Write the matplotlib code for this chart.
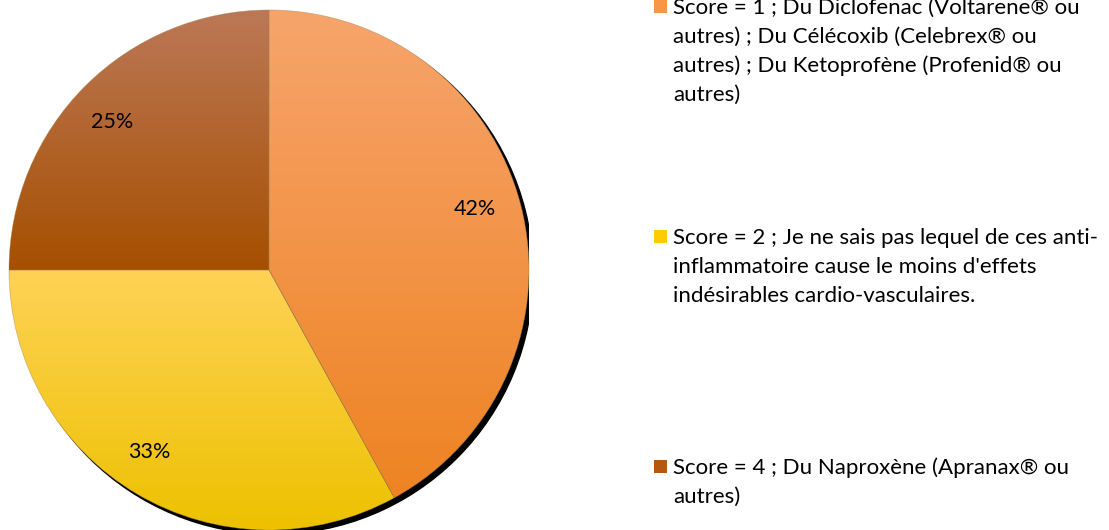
import numpy as np
import matplotlib
matplotlib.use("Agg")
import matplotlib.pyplot as plt
from matplotlib.colors import LinearSegmentedColormap
from matplotlib.patches import Rectangle, Circle

values = [42, 33, 25]
pct_labels = ["42%", "33%", "25%"]
legend_labels = [
    "Score = 1 ; Du Diclofenac (Voltarene® ou\nautres) ; Du Célécoxib (Celebrex® ou\nautres) ; Du Ketoprofène (Profenid® ou\nautres)",
    "Score = 2 ; Je ne sais pas lequel de ces anti-\ninflammatoire cause le moins d'effets\nindésirables cardio-vasculaires.",
    "Score = 4 ; Du Naproxène (Apranax® ou\nautres)",
]
top_colors = ["#F7A46C", "#FFD257", "#BC7857"]
bottom_colors = ["#EE8322", "#EDC100", "#A64F00"]
legend_colors = ["#F79646", "#FFCC00", "#B35A10"]

W, H = 1109, 530
fig = plt.figure(figsize=(W / 100, H / 100), dpi=100)
FONT = "Lato"

ax = fig.add_axes([9 / W, 0, 520 / W, 520 / H])
ax.set_xlim(-1, 1)
ax.set_ylim(-1, 1)
ax.set_aspect("equal")
ax.axis("off")

# shadow
shadow = Circle((0.016, -0.016), 1.0, color="black", zorder=0)
ax.add_patch(shadow)

wedges, texts = ax.pie(values, startangle=90, counterclock=False, radius=1.0,
                       wedgeprops=dict(linewidth=0, edgecolor="none"))
for w in wedges:
    w.set_zorder(1)

grad = np.linspace(0, 1, 256).reshape(-1, 1)
for w, tc, bc in zip(wedges, top_colors, bottom_colors):
    w.set_facecolor(bc)
    verts = w.get_path().vertices
    x0, x1 = verts[:, 0].min(), verts[:, 0].max()
    y0, y1 = verts[:, 1].min(), verts[:, 1].max()
    cmap = LinearSegmentedColormap.from_list("g", [bc, tc])
    im = ax.imshow(grad, cmap=cmap, extent=[x0, x1, y0, y1], origin="lower",
                   aspect="auto", zorder=2, interpolation="bilinear")
    im.set_clip_path(w)

for w in wedges:
    w.set_edgecolor((0.6, 0.5, 0.3, 0.5))
    w.set_linewidth(0.5)
    w.set_zorder(3)
    w.set_facecolor("none")

# label placement (distance, small angular nudge in degrees) per slice
label_pos = [(0.825, 2.2), (0.837, -2.8), (0.83, 1.6)]
acc = 0
total = sum(values)
for v, lab, (dist, nudge) in zip(values, pct_labels, label_pos):
    mid = 90 - (acc + v / 2) / total * 360 + nudge
    acc += v
    a = np.deg2rad(mid)
    ax.text(dist * np.cos(a), dist * np.sin(a), lab, ha="center", va="center",
            fontsize=15.5, family=FONT, color="black", zorder=5)

ax.set_xlim(-1, 1)
ax.set_ylim(-1, 1)

# legend
baselines = [14, 244, 474]
line_step = 29
for lab, c, by in zip(legend_labels, legend_colors, baselines):
    fig.patches.append(Rectangle((654 / W, 1 - (by - 1) / H), 13 / W, 13 / H,
                                 transform=fig.transFigure, facecolor=c, edgecolor="none"))
    for i, line in enumerate(lab.split("\n")):
        fig.text(673 / W, 1 - (by + i * line_step) / H, line, ha="left", va="baseline",
                 fontsize=16, family=FONT, color="black")

fig.savefig("out.png", dpi=100)
